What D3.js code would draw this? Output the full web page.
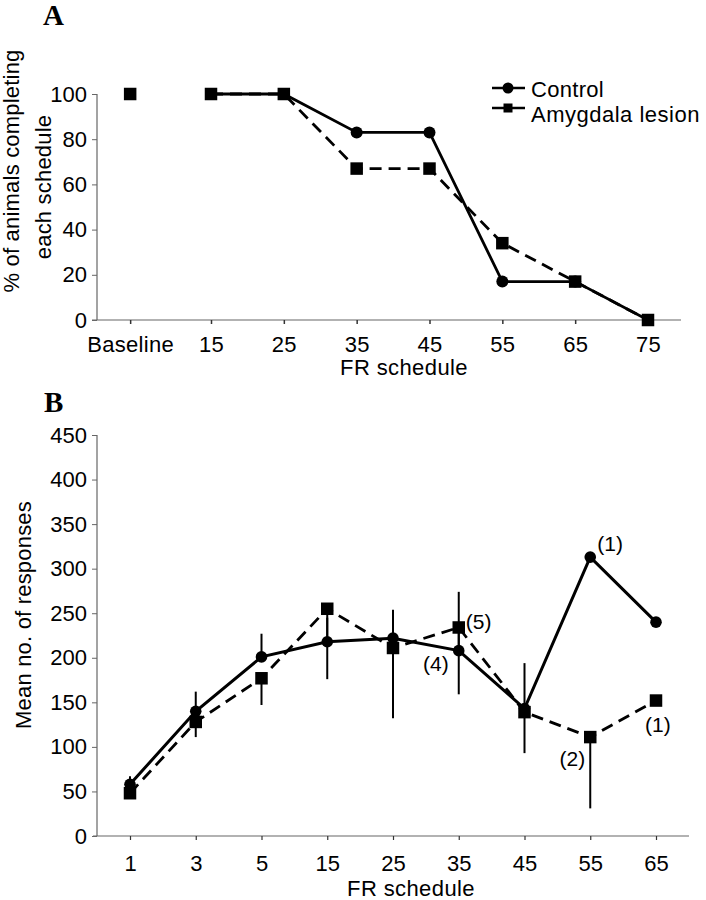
<!DOCTYPE html>
<html><head><meta charset="utf-8">
<script src="https://cdn.jsdelivr.net/npm/d3@7"></script>
<style>
body{margin:0;background:#fff}
text{font-family:"Liberation Sans",Arial,sans-serif;fill:#000}
</style>
</head><body>
<svg id="c" width="706" height="900"></svg>
<script>
// ---------- Data: panel A ----------
const scheduleA = ["Baseline","15","25","35","45","55","65","75"];
const controlA  = [null,100,100,83,83,17,17,0];
const lesionA   = [100,100,100,67,67,34,17,0];
const yTicksA   = [0,20,40,60,80,100];

// ---------- Data: panel B ----------
const scheduleB   = ["1","3","5","15","25","35","45","55","65"];
const controlB    = [58,140,201,218,222,208,143,313,240];
const controlSemB = [9,22,26,27,32,66,51,0,0];
const lesionB     = [48,128,177,255,211,234,139,111,152];
const lesionSemB  = [0,17,30,79,79,75,46,80,0];
const yTicksB     = [0,50,100,150,200,250,300,350,400,450];
// group sizes shown beside points
const annSeries = ["control","lesion","control","lesion","lesion"];
const annIndex  = [7,5,5,7,8];
const annText   = ["(1)","(5)","(4)","(2)","(1)"];

const seriesNames = ["Control","Amygdala lesion"];

const svg = d3.select("#c");
const FS = 22;
const AX = "#666";

function squareAt(g, x, y, s){
  g.append("rect").attr("x", x - s/2).attr("y", y - s/2).attr("width", s).attr("height", s).attr("fill","#000");
}

// ================= PANEL A =================
const xpA = d3.scalePoint().domain(scheduleA.slice(1)).range([211, 648]);
const posA = scheduleA.map(c => c === "Baseline" ? xpA("15") - 1.11 * xpA.step() : xpA(c));
const xA = d3.scaleOrdinal().domain(scheduleA).range(posA);
const yA = d3.scaleLinear().domain([0,100]).range([320, 94]);

const gA = svg.append("g");
gA.append("text").attr("x",43).attr("y",25).text("A")
  .style("font-family","'Liberation Serif','Times New Roman',serif").style("font-weight","bold").style("font-size","29px");

// axes
gA.append("line").attr("x1",92).attr("x2",681).attr("y1",yA(0)).attr("y2",yA(0)).attr("stroke",AX).attr("stroke-width",1.2);
gA.append("line").attr("x1",97).attr("x2",97).attr("y1",yA(100)).attr("y2",yA(0)).attr("stroke",AX).attr("stroke-width",1.2);

const yAxA = gA.append("g").attr("transform","translate(97,0)")
  .call(d3.axisLeft(yA).tickValues(yTicksA).tickSize(5).tickSizeOuter(0).tickPadding(6));
yAxA.select(".domain").remove();
yAxA.selectAll("line").attr("stroke",AX);
yAxA.selectAll("text").style("font-size",FS+"px").attr("font-family",null).attr("x",-10);

const xAxA = gA.append("g").attr("transform",`translate(0,${yA(0)})`)
  .call(d3.axisBottom(xA).tickSize(4));
xAxA.select(".domain").remove();
xAxA.selectAll("line").attr("stroke","#333").attr("stroke-width",1.5);
xAxA.selectAll("text").style("font-size",FS+"px").attr("font-family",null)
  .attr("y",32).attr("dy",null).style("letter-spacing","0.3px");

gA.append("text").attr("x",404).attr("y",375).attr("text-anchor","middle")
  .style("font-size",FS+"px").style("letter-spacing","0.4px").text("FR schedule");

gA.append("text").attr("transform","translate(19,171) rotate(-90)").attr("text-anchor","middle")
  .style("font-size",FS+"px").style("letter-spacing","0.2px").text("% of animals completing");
gA.append("text").attr("transform","translate(51,187) rotate(-90)").attr("text-anchor","middle")
  .style("font-size",FS+"px").style("letter-spacing","0.2px").text("each schedule");

// lines
const lineA = d3.line().defined(d => d.v != null).x(d => xA(d.c)).y(d => yA(d.v));
const ctlA = scheduleA.map((c,i) => ({c, v: controlA[i]}));
const lesA = scheduleA.map((c,i) => ({c, v: lesionA[i]}));
gA.append("path").datum(ctlA).attr("d", lineA).attr("fill","none").attr("stroke","#000").attr("stroke-width",2.8);
gA.append("path").datum(lesA.filter(d => d.c !== "Baseline")).attr("d", lineA).attr("fill","none")
  .attr("stroke","#000").attr("stroke-width",2.8).attr("stroke-dasharray","12,7");
ctlA.filter(d => d.v != null).forEach(d => gA.append("circle").attr("cx",xA(d.c)).attr("cy",yA(d.v)).attr("r",6).attr("fill","#000"));
lesA.forEach(d => squareAt(gA, xA(d.c), yA(d.v), 12.5));

// legend
const lg = gA.append("g");
lg.append("line").attr("x1",492).attr("x2",525).attr("y1",88).attr("y2",88).attr("stroke","#000").attr("stroke-width",2.5);
lg.append("circle").attr("cx",508).attr("cy",88).attr("r",5.5).attr("fill","#000");
lg.append("line").attr("x1",492).attr("x2",525).attr("y1",108).attr("y2",108).attr("stroke","#000").attr("stroke-width",2.5);
squareAt(lg, 508, 108, 9);
lg.append("text").attr("x",531).attr("y",97).style("font-size",FS+"px").style("letter-spacing","0.3px").text(seriesNames[0]);
lg.append("text").attr("x",531).attr("y",122).style("font-size",FS+"px").style("letter-spacing","0.5px").text(seriesNames[1]);

// ================= PANEL B =================
const xB = d3.scalePoint().domain(scheduleB).range([130, 656]);
const yB = d3.scaleLinear().domain([0,450]).range([836, 435]);
const gB = svg.append("g");
gB.append("text").attr("x",44).attr("y",412).text("B")
  .style("font-family","'Liberation Serif','Times New Roman',serif").style("font-weight","bold").style("font-size","29px");

gB.append("line").attr("x1",93).attr("x2",689).attr("y1",yB(0)).attr("y2",yB(0)).attr("stroke",AX).attr("stroke-width",1.2);
gB.append("line").attr("x1",97).attr("x2",97).attr("y1",yB(450)).attr("y2",yB(0)).attr("stroke",AX).attr("stroke-width",1.2);

const yAxB = gB.append("g").attr("transform","translate(97,0)")
  .call(d3.axisLeft(yB).tickValues(yTicksB).tickSize(5).tickSizeOuter(0));
yAxB.select(".domain").remove();
yAxB.selectAll("line").attr("stroke",AX);
yAxB.selectAll("text").style("font-size",FS+"px").attr("font-family",null).attr("x",-10);

const xAxB = gB.append("g").attr("transform",`translate(0,${yB(0)})`)
  .call(d3.axisBottom(xB).tickSize(4));
xAxB.select(".domain").remove();
xAxB.selectAll("line").attr("stroke","#333").attr("stroke-width",1.2);
xAxB.selectAll("text").style("font-size",FS+"px").attr("font-family",null).attr("y",35).attr("dy",null);

gB.append("text").attr("x",411).attr("y",896).attr("text-anchor","middle")
  .style("font-size",FS+"px").style("letter-spacing","0.4px").text("FR schedule");
gB.append("text").attr("transform","translate(31,615) rotate(-90)").attr("text-anchor","middle")
  .style("font-size",FS+"px").style("letter-spacing","0.2px").text("Mean no. of responses");

// error bars: control upward, lesion downward
scheduleB.forEach((c,i) => {
  if (controlSemB[i] > 0)
    gB.append("line").attr("x1",xB(c)).attr("x2",xB(c)).attr("y1",yB(controlB[i])).attr("y2",yB(controlB[i]+controlSemB[i]))
      .attr("stroke","#000").attr("stroke-width",2);
  if (lesionSemB[i] > 0)
    gB.append("line").attr("x1",xB(c)).attr("x2",xB(c)).attr("y1",yB(lesionB[i])).attr("y2",yB(lesionB[i]-lesionSemB[i]))
      .attr("stroke","#000").attr("stroke-width",2);
});

const lineB = d3.line().x(d => xB(d.c)).y(d => yB(d.v));
const ctlB = scheduleB.map((c,i) => ({c, v: controlB[i]}));
const lesB = scheduleB.map((c,i) => ({c, v: lesionB[i]}));
gB.append("path").datum(ctlB).attr("d", lineB).attr("fill","none").attr("stroke","#000").attr("stroke-width",3);
gB.append("path").datum(lesB).attr("d", lineB).attr("fill","none").attr("stroke","#000").attr("stroke-width",2.8).attr("stroke-dasharray","12,7");
ctlB.forEach(d => gB.append("circle").attr("cx",xB(d.c)).attr("cy",yB(d.v)).attr("r",5.8).attr("fill","#000"));
lesB.forEach(d => squareAt(gB, xB(d.c), yB(d.v), 12.5));

// annotations (n per group)
const annOff = [[7,-6,"start"],[7,2,"start"],[-10,20,"end"],[-5,29,"end"],[-11,31,"start"]];
annText.forEach((t,k) => {
  const i = annIndex[k];
  const v = annSeries[k] === "control" ? controlB[i] : lesionB[i];
  const o = annOff[k];
  gB.append("text").attr("x", xB(scheduleB[i]) + o[0]).attr("y", yB(v) + o[1]).attr("text-anchor", o[2])
    .style("font-size","21px").text(t);
});
</script>
</body></html>
